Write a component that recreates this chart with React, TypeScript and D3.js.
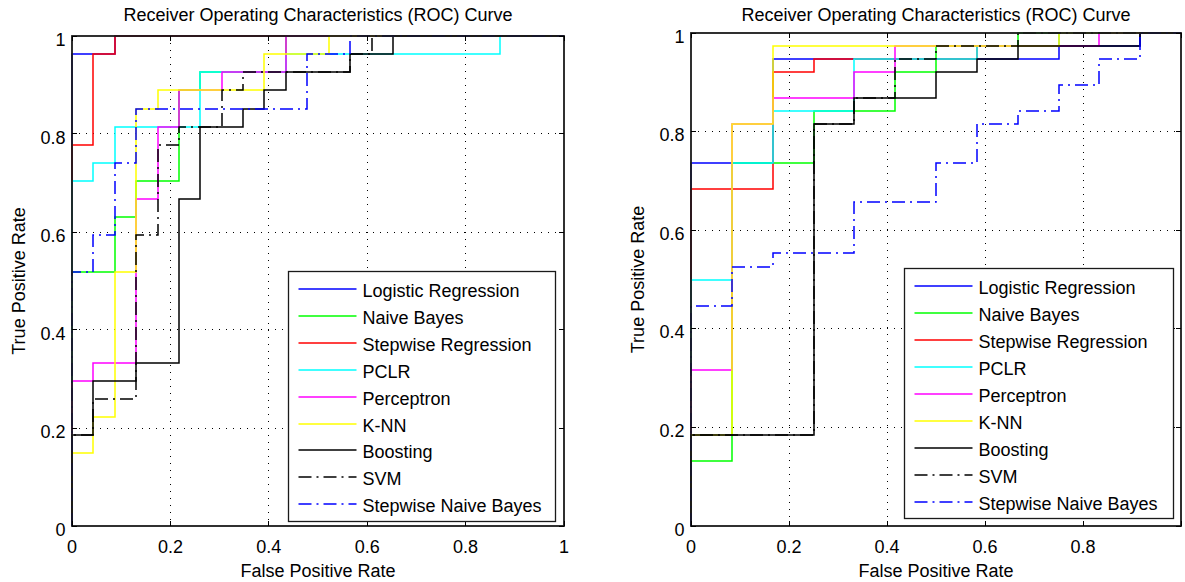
import React from 'react';
import * as d3 from 'd3';

type Pt = [number, number];

const seriesNames = ['Logistic Regression', 'Naive Bayes', 'Stepwise Regression', 'PCLR', 'Perceptron', 'K-NN', 'Boosting', 'SVM', 'Stepwise Naive Bayes'];
const seriesColors = ['#0000ff', '#00ff00', '#ff0000', '#00ffff', '#ff00ff', '#ffff00', '#000000', '#000000', '#0000ff'];
const seriesDashDot = [false, false, false, false, false, false, false, true, true];

const tickValues = [0, 0.2, 0.4, 0.6, 0.8, 1];
const yTickLabels = ['0', '0.2', '0.4', '0.6', '0.8', '1'];
const leftXTickLabels = ['0', '0.2', '0.4', '0.6', '0.8', '1'];
const rightXTickLabels = ['0', '0.2', '0.4', '0.6', '0.8', ''];

const chartTitle = 'Receiver Operating Characteristics (ROC) Curve';
const xTitle = 'False Positive Rate';
const yTitle = 'True Positive Rate';

// left panel (fpr, tpr)
const leftLogistic: Pt[] = [[0, 0], [0, 0.963], [0.087, 0.963], [0.087, 1], [1, 1]];
const leftNaiveBayes: Pt[] = [[0, 0], [0, 0.519], [0.087, 0.519], [0.087, 0.63], [0.13, 0.63], [0.13, 0.704], [0.217, 0.704], [0.217, 0.889], [0.261, 0.889], [0.261, 0.926], [0.435, 0.926], [0.435, 1], [1, 1]];
const leftStepwise: Pt[] = [[0, 0], [0, 0.778], [0.043, 0.778], [0.043, 0.963], [0.087, 0.963], [0.087, 1], [1, 1]];
const leftPclr: Pt[] = [[0, 0], [0, 0.704], [0.043, 0.704], [0.043, 0.741], [0.087, 0.741], [0.087, 0.815], [0.261, 0.815], [0.261, 0.926], [0.435, 0.926], [0.435, 0.963], [0.87, 0.963], [0.87, 1], [1, 1]];
const leftPerceptron: Pt[] = [[0, 0], [0, 0.296], [0.043, 0.296], [0.043, 0.333], [0.13, 0.333], [0.13, 0.667], [0.174, 0.667], [0.174, 0.815], [0.217, 0.815], [0.217, 0.889], [0.304, 0.889], [0.304, 0.926], [0.435, 0.926], [0.435, 1], [1, 1]];
const leftKnn: Pt[] = [[0, 0], [0, 0.148], [0.043, 0.148], [0.043, 0.222], [0.087, 0.222], [0.087, 0.519], [0.13, 0.519], [0.13, 0.852], [0.174, 0.852], [0.174, 0.889], [0.391, 0.889], [0.391, 0.963], [0.522, 0.963], [0.522, 1], [1, 1]];
const leftBoosting: Pt[] = [[0, 0], [0, 0.185], [0.043, 0.185], [0.043, 0.296], [0.13, 0.296], [0.13, 0.333], [0.217, 0.333], [0.217, 0.667], [0.261, 0.667], [0.261, 0.815], [0.348, 0.815], [0.348, 0.852], [0.391, 0.852], [0.391, 0.889], [0.435, 0.889], [0.435, 0.926], [0.565, 0.926], [0.565, 0.963], [0.652, 0.963], [0.652, 1], [1, 1]];
const leftSvm: Pt[] = [[0, 0], [0, 0.185], [0.043, 0.185], [0.043, 0.259], [0.13, 0.259], [0.13, 0.593], [0.174, 0.593], [0.174, 0.778], [0.217, 0.778], [0.217, 0.815], [0.304, 0.815], [0.304, 0.889], [0.348, 0.889], [0.348, 0.926], [0.565, 0.926], [0.565, 0.963], [0.609, 0.963], [0.609, 1], [1, 1]];
const leftStepwiseNB: Pt[] = [[0, 0], [0, 0.519], [0.043, 0.519], [0.043, 0.593], [0.087, 0.593], [0.087, 0.741], [0.13, 0.741], [0.13, 0.852], [0.478, 0.852], [0.478, 0.963], [0.565, 0.963], [0.565, 1], [1, 1]];

// right panel (fpr, tpr)
const rightLogistic: Pt[] = [[0, 0], [0, 0.737], [0.167, 0.737], [0.167, 0.947], [0.75, 0.947], [0.75, 0.974], [0.917, 0.974], [0.917, 1], [1, 1]];
const rightNaiveBayes: Pt[] = [[0, 0], [0, 0.132], [0.083, 0.132], [0.083, 0.737], [0.25, 0.737], [0.25, 0.842], [0.417, 0.842], [0.417, 0.921], [0.5, 0.921], [0.5, 0.974], [0.667, 0.974], [0.667, 1], [1, 1]];
const rightStepwise: Pt[] = [[0, 0], [0, 0.684], [0.167, 0.684], [0.167, 0.921], [0.25, 0.921], [0.25, 0.947], [0.583, 0.947], [0.583, 0.974], [0.75, 0.974], [0.75, 1], [1, 1]];
const rightPclr: Pt[] = [[0, 0], [0, 0.5], [0.083, 0.5], [0.083, 0.737], [0.167, 0.737], [0.167, 0.842], [0.333, 0.842], [0.333, 0.947], [0.583, 0.947], [0.583, 0.974], [0.75, 0.974], [0.75, 1], [1, 1]];
const rightPerceptron: Pt[] = [[0, 0], [0, 0.316], [0.083, 0.316], [0.083, 0.816], [0.167, 0.816], [0.167, 0.868], [0.333, 0.868], [0.333, 0.921], [0.417, 0.921], [0.417, 0.974], [0.833, 0.974], [0.833, 1], [1, 1]];
const rightKnn: Pt[] = [[0, 0], [0, 0.184], [0.083, 0.184], [0.083, 0.816], [0.167, 0.816], [0.167, 0.974], [0.75, 0.974], [0.75, 1], [1, 1]];
const rightBoosting: Pt[] = [[0, 0], [0, 0.184], [0.25, 0.184], [0.25, 0.816], [0.333, 0.816], [0.333, 0.868], [0.5, 0.868], [0.5, 0.921], [0.583, 0.921], [0.583, 0.947], [0.667, 0.947], [0.667, 0.974], [0.917, 0.974], [0.917, 1], [1, 1]];
const rightSvm: Pt[] = [[0, 0], [0, 0.184], [0.25, 0.184], [0.25, 0.816], [0.333, 0.816], [0.333, 0.868], [0.417, 0.868], [0.417, 0.947], [0.5, 0.947], [0.5, 0.974], [0.667, 0.974], [0.667, 1], [1, 1]];
const rightStepwiseNB: Pt[] = [[0, 0], [0, 0.447], [0.083, 0.447], [0.083, 0.526], [0.167, 0.526], [0.167, 0.553], [0.333, 0.553], [0.333, 0.658], [0.5, 0.658], [0.5, 0.737], [0.583, 0.737], [0.583, 0.816], [0.667, 0.816], [0.667, 0.842], [0.75, 0.842], [0.75, 0.895], [0.833, 0.895], [0.833, 0.947], [0.917, 0.947], [0.917, 1], [1, 1]];

const leftCurves = [leftLogistic, leftNaiveBayes, leftStepwise, leftPclr, leftPerceptron, leftKnn, leftBoosting, leftSvm, leftStepwiseNB];
const rightCurves = [rightLogistic, rightNaiveBayes, rightStepwise, rightPclr, rightPerceptron, rightKnn, rightBoosting, rightSvm, rightStepwiseNB];

const FONT = 'Liberation Sans, Arial, sans-serif';
const FS = 18;
const DASHDOT = '13,5,2,5';

function px(v: number) {
  return Math.round(v - 0.5) + 0.5;
}

function RocPanel(props: any) {
  const { x0, x1, y0, y1, curves, xLabels, legend } = props;
  const x = d3.scaleLinear().domain([0, 1]).range([x0, x1]);
  const y = d3.scaleLinear().domain([0, 1]).range([y1, y0]);
  const line = d3.line<Pt>().x(d => Math.round(x(d[0]))).y(d => Math.round(y(d[1])));
  const tick = 5;

  return (
    <g>
      {/* grid */}
      {tickValues.slice(1, -1).map(t => (
        <g key={'g' + t}>
          <line x1={px(x(t))} x2={px(x(t))} y1={y0} y2={y1} stroke="#000" strokeWidth={1} strokeDasharray="1,6" />
          <line x1={x0} x2={x1} y1={px(y(t))} y2={px(y(t))} stroke="#000" strokeWidth={1} strokeDasharray="1,6" />
        </g>
      ))}

      {/* curves */}
      {curves.map((c: Pt[], i: number) => (
        <path key={'c' + i} d={line(c) || ''} fill="none" stroke={seriesColors[i]} strokeWidth={1.5}
          strokeDasharray={seriesDashDot[i] ? DASHDOT : undefined} />
      ))}

      {/* box + ticks */}
      <rect x={x0} y={y0} width={x1 - x0} height={y1 - y0} fill="none" stroke="#1a1a1a" strokeWidth={1.8} />
      {tickValues.map(t => (
        <g key={'t' + t}>
          <line x1={px(x(t))} x2={px(x(t))} y1={y1} y2={y1 - tick} stroke="#000" />
          <line x1={px(x(t))} x2={px(x(t))} y1={y0} y2={y0 + tick} stroke="#000" />
          <line x1={x0} x2={x0 + tick} y1={px(y(t))} y2={px(y(t))} stroke="#000" />
          <line x1={x1} x2={x1 - tick} y1={px(y(t))} y2={px(y(t))} stroke="#000" />
        </g>
      ))}

      {/* tick labels */}
      {tickValues.map((t, i) => (
        <text key={'xl' + t} x={x(t)} y={y1 + 27} textAnchor="middle" fontFamily={FONT} fontSize={FS}>{xLabels[i]}</text>
      ))}
      {tickValues.map((t, i) => (
        <text key={'yl' + t} x={x0 - 6.5} y={y(t) + 9.5} textAnchor="end" fontFamily={FONT} fontSize={FS}>{yTickLabels[i]}</text>
      ))}

      {/* titles */}
      <text x={(x0 + x1) / 2} y={21} textAnchor="middle" fontFamily={FONT} fontSize={FS}>{chartTitle}</text>
      <text x={(x0 + x1) / 2} y={577} textAnchor="middle" fontFamily={FONT} fontSize={FS}>{xTitle}</text>
      <text transform={`translate(${x0 - 47.5},${(y0 + y1) / 2}) rotate(-90)`} textAnchor="middle" fontFamily={FONT} fontSize={FS}>{yTitle}</text>

      {/* legend */}
      <rect x={legend.x} y={legend.y} width={legend.w} height={legend.h} fill="#fff" stroke="#1a1a1a" strokeWidth={1.3} />
      {seriesNames.map((name, i) => {
        const cy = Math.round(legend.y + legend.first + i * legend.step);
        return (
          <g key={'lg' + i}>
            <line x1={legend.x + 10} x2={legend.x + 68} y1={cy} y2={cy} stroke={seriesColors[i]} strokeWidth={1.5}
              strokeDasharray={seriesDashDot[i] ? DASHDOT : undefined} />
            <text x={legend.x + 74} y={cy + 7.5} fontFamily={FONT} fontSize={FS}>{name}</text>
          </g>
        );
      })}
    </g>
  );
}

export default function App() {
  return (
    <svg width={1185} height={582} style={{ position: 'absolute', left: 0, top: 0, background: '#fff' }}>
      <rect x={0} y={0} width={1185} height={582} fill="#fff" />
      <RocPanel x0={72} x1={564} y0={36} y1={526} curves={leftCurves} xLabels={leftXTickLabels}
        legend={{ x: 288.5, y: 271.5, w: 267, h: 250, first: 17.5, step: 26.9 }} />
      <RocPanel x0={691} x1={1181} y0={33} y1={526} curves={rightCurves} xLabels={rightXTickLabels}
        legend={{ x: 904.5, y: 268.5, w: 269, h: 250, first: 17.5, step: 27 }} />
    </svg>
  );
}
